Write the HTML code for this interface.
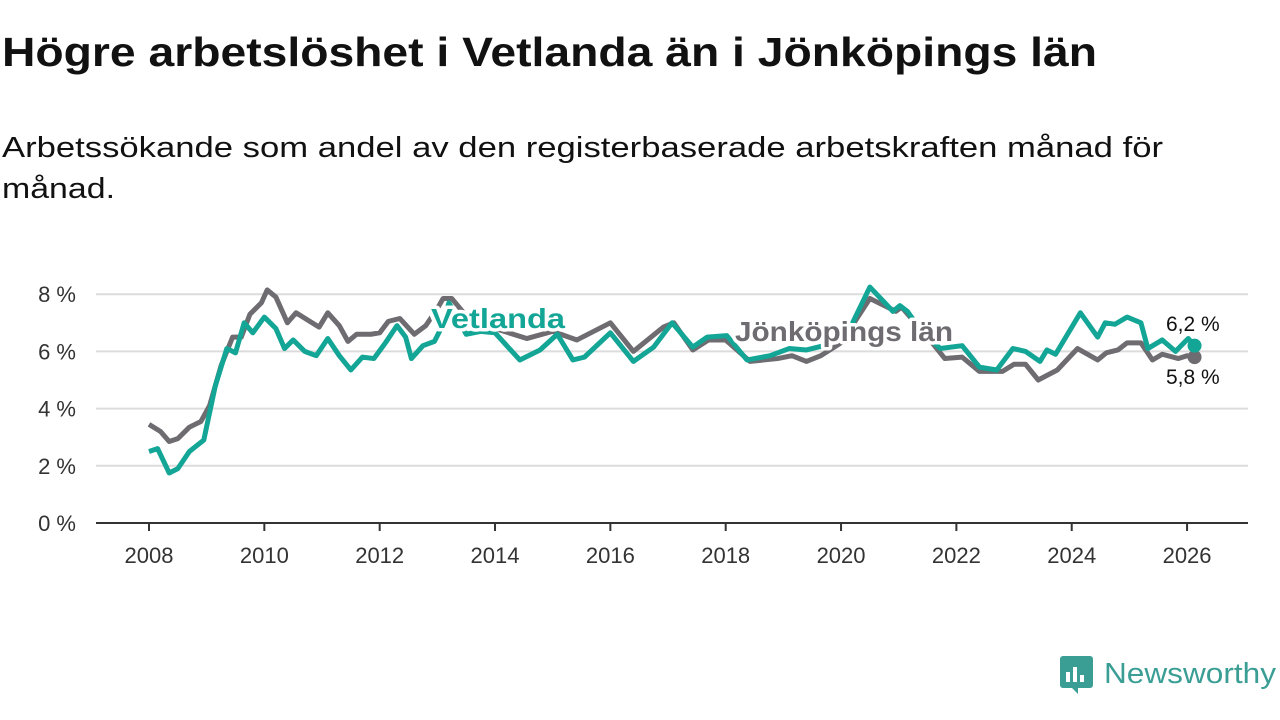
<!DOCTYPE html>
<html><head><meta charset="utf-8"><style>
html,body{margin:0;padding:0;background:#fff;}
svg{display:block;font-family:"Liberation Sans","DejaVu Sans",sans-serif;}
</style></head><body>
<svg id="chart" width="1280" height="720">
<text x="2" y="66" font-size="41" font-weight="bold" fill="#111" textLength="1095" lengthAdjust="spacingAndGlyphs">Högre arbetslöshet i Vetlanda än i Jönköpings län</text>
<text x="2" y="157" font-size="29" fill="#111" textLength="1161" lengthAdjust="spacingAndGlyphs">Arbetssökande som andel av den registerbaserade arbetskraften månad för</text>
<text x="2" y="198" font-size="29" fill="#111" textLength="113" lengthAdjust="spacingAndGlyphs">månad.</text>
<g id="grid"></g><g id="axes"></g><g id="series"></g><g id="labels"></g>
<g>
<rect x="1060" y="656" width="33" height="32" rx="3" fill="#3a9e95"/>
<polygon points="1072,688 1078,694 1078,688" fill="#3a9e95"/>
<rect x="1066" y="672" width="4" height="10" fill="#fff"/><rect x="1073" y="667" width="4" height="15" fill="#fff"/><rect x="1080" y="675" width="4" height="7" fill="#fff"/>
<text x="1104" y="683" font-size="29" fill="#3a9e95" textLength="172" lengthAdjust="spacingAndGlyphs">Newsworthy</text>
</g>
</svg>
<script>
const yTicks=[0,2,4,6,8];
const yTickLabels=["0 %","2 %","4 %","6 %","8 %"];
const xTicks=[2008,2010,2012,2014,2016,2018,2020,2022,2024,2026];
const vetDates=[2008.0,2008.15,2008.35,2008.5,2008.7,2008.95,2009.15,2009.35,2009.5,2009.65,2009.8,2010.0,2010.2,2010.35,2010.5,2010.7,2010.9,2011.1,2011.3,2011.5,2011.7,2011.9,2012.1,2012.3,2012.45,2012.55,2012.75,2012.95,2013.1,2013.2,2013.5,2013.75,2014.0,2014.43,2014.78,2015.08,2015.35,2015.55,2016.0,2016.4,2016.75,2017.07,2017.43,2017.68,2018.02,2018.37,2018.77,2019.1,2019.4,2019.7,2020.0,2020.2,2020.5,2020.9,2021.02,2021.15,2021.4,2021.72,2022.1,2022.4,2022.7,2022.98,2023.2,2023.45,2023.57,2023.72,2024.15,2024.45,2024.58,2024.75,2024.96,2025.2,2025.32,2025.57,2025.8,2026.02,2026.13];
const vetValues=[2.5,2.6,1.75,1.9,2.5,2.9,4.8,6.1,5.95,7.0,6.65,7.2,6.8,6.1,6.4,6.0,5.85,6.45,5.85,5.35,5.8,5.75,6.3,6.9,6.5,5.75,6.2,6.35,6.95,7.7,6.6,6.7,6.65,5.7,6.05,6.6,5.7,5.8,6.65,5.65,6.15,7.0,6.15,6.5,6.55,5.7,5.85,6.1,6.05,6.2,6.5,7.0,8.25,7.4,7.6,7.4,6.7,6.1,6.2,5.45,5.35,6.1,6.0,5.65,6.05,5.9,7.35,6.5,7.0,6.95,7.2,7.0,6.1,6.4,6.0,6.45,6.2];
const jkpDates=[2008.0,2008.2,2008.35,2008.5,2008.7,2008.9,2009.05,2009.25,2009.45,2009.6,2009.75,2009.95,2010.05,2010.2,2010.4,2010.55,2010.75,2010.95,2011.1,2011.3,2011.45,2011.6,2011.85,2012.0,2012.15,2012.35,2012.6,2012.8,2013.0,2013.1,2013.25,2013.6,2014.0,2014.55,2015.0,2015.42,2016.0,2016.4,2016.92,2017.1,2017.43,2017.7,2018.0,2018.42,2018.9,2019.15,2019.4,2019.65,2020.0,2020.5,2020.8,2020.95,2021.05,2021.2,2021.5,2021.8,2022.1,2022.4,2022.8,2023.0,2023.2,2023.42,2023.75,2024.1,2024.45,2024.6,2024.8,2024.96,2025.2,2025.4,2025.57,2025.85,2026.0,2026.13];
const jkpValues=[3.45,3.2,2.85,2.95,3.35,3.55,4.1,5.5,6.5,6.5,7.3,7.7,8.15,7.9,7.0,7.35,7.1,6.85,7.35,6.9,6.35,6.6,6.6,6.65,7.05,7.15,6.6,6.9,7.5,7.85,7.85,7.0,6.8,6.45,6.7,6.4,7.0,6.0,6.85,7.0,6.05,6.4,6.4,5.65,5.75,5.85,5.65,5.85,6.3,7.85,7.55,7.4,7.55,7.2,6.5,5.75,5.8,5.3,5.3,5.55,5.55,5.0,5.35,6.1,5.7,5.95,6.05,6.3,6.3,5.7,5.9,5.75,5.85,5.8];
const NS="http://www.w3.org/2000/svg";
const X=d=>149+(d-2008)*57.67;
const Y=v=>523-v*28.6;
function mk(tag,attrs,parent){const e=document.createElementNS(NS,tag);for(const k in attrs)e.setAttribute(k,attrs[k]);parent.appendChild(e);return e;}
const grid=document.getElementById('grid'),axes=document.getElementById('axes'),series=document.getElementById('series'),labels=document.getElementById('labels');
yTicks.forEach((t,i)=>{
 if(t>0){const g=mk('line',{x1:96,x2:1248,y1:Y(t),y2:Y(t),stroke:'#dcdcdc','stroke-width':2},grid);
 
 }
 const tx=mk('text',{x:76,y:Y(t)+8,'font-size':22,fill:'#333','text-anchor':'end'},axes);tx.textContent=yTickLabels[i];
 
 
});
const ax=mk('line',{x1:96,x2:1248,y1:523,y2:523,stroke:'#333','stroke-width':2},axes);


xTicks.forEach(t=>{
 const tk=mk('line',{x1:X(t),x2:X(t),y1:523,y2:531,stroke:'#333','stroke-width':2},axes);
 
 
 const tx=mk('text',{x:X(t),y:563,'font-size':22,fill:'#333','text-anchor':'middle'},axes);tx.textContent=t;
 
 
});
function line(dates,vals,color,name){
 const p=mk('polyline',{points:dates.map((d,i)=>X(d)+','+Y(vals[i])).join(' '),fill:'none',stroke:color,'stroke-width':5,'stroke-linejoin':'round'},series);
 
 
 const c=mk('circle',{cx:X(dates[dates.length-1]),cy:Y(vals[vals.length-1]),r:7,fill:color},series);
 
 
}
line(jkpDates,jkpValues,'#6e6c71','jonkoping-line');
line(vetDates,vetValues,'#13a595','vetlanda-line');
function lab(x,y,txt,color,size,bold,anchor,name,len){
 const a={x:x,y:y,'font-size':size,'font-weight':bold?'bold':'normal',fill:color,'text-anchor':anchor,stroke:'#fff','stroke-width':bold?7:5,'paint-order':'stroke','stroke-linejoin':'round'};
 if(len){a.textLength=len;a.lengthAdjust='spacingAndGlyphs';}
 const t=mk('text',a,labels);
 t.textContent=txt;
 
 
}
lab(431,328,'Vetlanda','#13a595',28,true,'start','vetlanda-label',134);
lab(735,341,'Jönköpings län','#6e6c71',28,true,'start','jonkoping-label',218);
lab(1166,331,'6,2 %','#111',21,false,'start','vetlanda-end-value');
lab(1166,384,'5,8 %','#111',21,false,'start','jonkoping-end-value');
</script>
</body></html>
